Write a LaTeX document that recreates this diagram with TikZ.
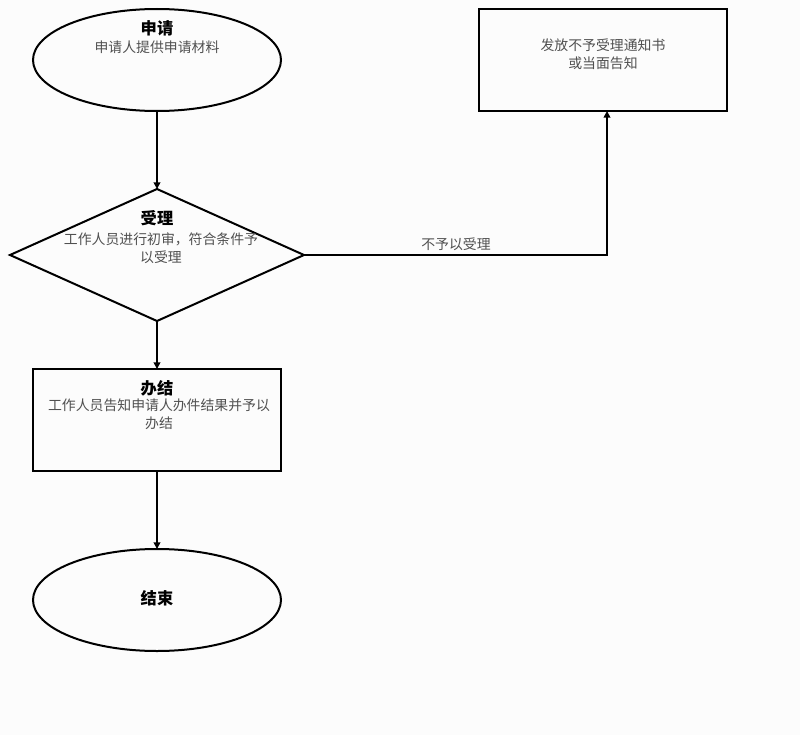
\documentclass[tikz,border=0pt]{standalone}
\usepackage{fontspec}
\newfontfamily\cjk{Noto Sans CJK SC}
\usetikzlibrary{shapes.geometric,arrows.meta}
\definecolor{bodygrey}{RGB}{80,80,80}
\definecolor{bg}{RGB}{252,252,252}
\tikzset{
  shapebox/.style={draw=black,line width=1.5pt,inner sep=0pt,outer sep=0pt},
  titletext/.style={font=\cjk\fontsize{12.2}{14}\selectfont\bfseries,text=black,inner sep=0pt},
  bodytext/.style={font=\cjk\fontsize{10.4}{13.5}\selectfont,text=bodygrey,inner sep=0pt,align=center},
  conn/.style={line width=1.5pt,-{Triangle[length=5pt,width=5pt]}}
}
\begin{document}
\begin{tikzpicture}[x=0.75pt,y=-0.75pt]
\fill[bg] (0,0) rectangle (800,735);
\useasboundingbox (0,0) rectangle (800,735);
% shapes
\node[shapebox,ellipse,minimum width=186pt,minimum height=76.5pt] (start) at (157,60) {};
\node[shapebox,diamond,aspect=2.23,minimum width=220.5pt,minimum height=99pt] (check) at (157,255) {};
\node[shapebox,rectangle,minimum width=186pt,minimum height=76.5pt] (done) at (157,420) {};
\node[shapebox,ellipse,minimum width=186pt,minimum height=76.5pt] (stop) at (157,600) {};
\node[shapebox,rectangle,minimum width=186pt,minimum height=76.5pt] (reject) at (603,60) {};
% texts
\node[titletext] (t1) at (157,28) {申请};
\node[bodytext] (b1) at (157,47) {申请人提供申请材料};
\node[titletext] (t2) at (157,218) {受理};
\node[bodytext] (b2) at (161,248) {工作人员进行初审，符合条件予\\以受理};
\node[titletext] (t3) at (157,388) {办结};
\node[bodytext] (b3) at (159,414) {工作人员告知申请人办件结果并予以\\办结};
\node[titletext] (t4) at (157,598) {结束};
\node[bodytext] (b5) at (603,54) {发放不予受理通知书\\或当面告知};
% connectors
\draw[conn] (start.south) -- (check.north);
\draw[conn] (check.south) -- (done.north);
\draw[conn] (done.south) -- (stop.north);
\coordinate (k) at (607,255);
\draw[conn] (check.east) -- (k) -- (k |- reject.south);
\node[bodytext] (lbl) at (456,244) {不予以受理};
\end{tikzpicture}
\end{document}
